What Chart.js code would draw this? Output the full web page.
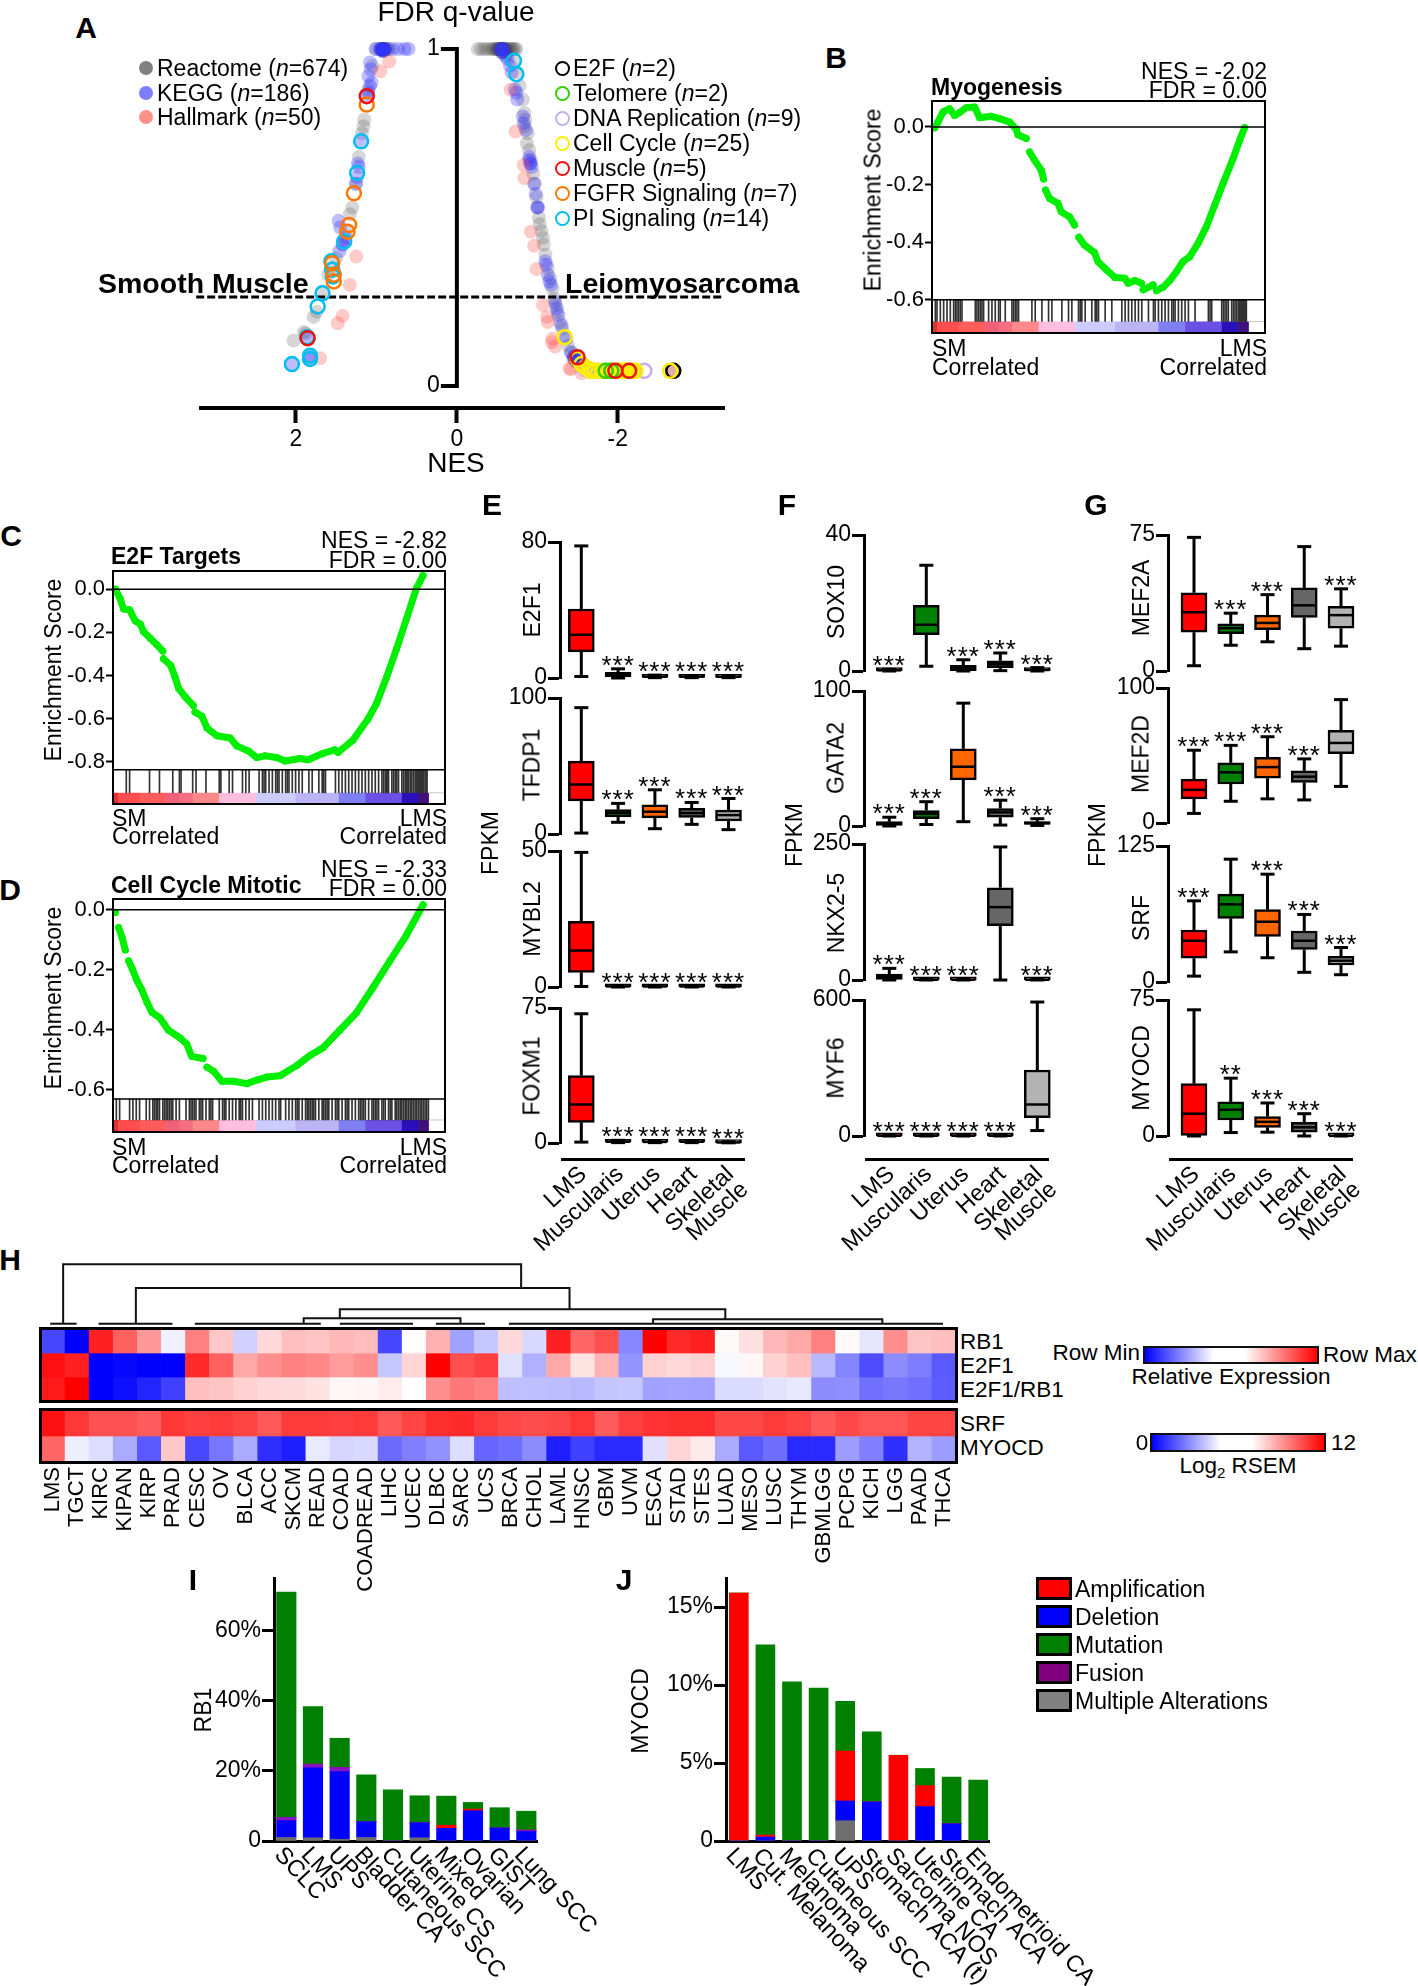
<!DOCTYPE html>
<html lang="en">
<head>
<meta charset="UTF-8" />
<title>LMS figure</title>
<script src="https://cdn.jsdelivr.net/npm/chart.js"></script>
<style>
  body { margin: 0; background: #fff; }
  #page { position: relative; width: 1418px; height: 1986px; overflow: hidden; font-family: "Liberation Sans", Arial, sans-serif; color: #000; }
  .t { position: absolute; white-space: nowrap; line-height: 1; }
  .sw { position: absolute; box-sizing: border-box; border: 3px solid #000; }
</style>
</head>
<body>
<div id="page"></div>
<script>
// ---- panel A data: [NES, FDR q-value]
const reactomeSets = [
  [-.26,1],[-.30,1],[-.34,1],[-.38,1],[-.42,1],[-.45,1],[-.47,1],[-.49,1],[-.50,1],[-.51,1],[-.52,1],[-.53,1],[-.54,1],[-.55,1],[-.55,.995],[-.55,1],[-.56,1],[-.56,.99],[-.56,1],[-.57,1],[-.57,.99],[-.57,1],[-.58,1],[-.58,.995],[-.58,1],[-.59,1],[-.59,.99],[-.60,1],[-.60,.995],[-.61,1],[-.62,1],[-.64,1],[-.66,1],[-.68,1],[-.70,1],[-.72,1],[-.74,1],
  [-.62,.985],[-.70,.96],[-.75,.93],[-.78,.89],[-.82,.85],[-.84,.81],[-.85,.79],[-.84,.77],[-.88,.75],[-.87,.72],[-.90,.70],[-.92,.67],[-.95,.63],[-.97,.60],[-.99,.56],[-1.0,.53],[-1.02,.50],[-1.03,.48],[-1.05,.46],[-1.07,.44],[-1.08,.42],[-1.10,.39],[-1.13,.35],[-1.16,.32],[-1.19,.29],[-1.21,.26],[-1.23,.24],[-1.25,.22],[-1.28,.19],[-1.31,.17],[-1.34,.15],[-1.38,.12],[-1.42,.10],[-1.45,.08],[-1.47,.08],[-1.46,.085],[-1.48,.075],[-1.50,.07],[-1.55,.06],[-1.6,.05],[-1.65,.045],[-1.68,.045],[-1.75,.045],[-1.85,.045],[-1.95,.045],[-2.1,.045],[-2.68,.045],
  [1.0,1],[.96,1],[.94,1],[.93,1],[.92,1],[.92,.995],[.91,1],[.91,.995],[.90,1],[.89,1],[.88,1],[.86,1],[.84,1],
  [1.05,.95],[1.1,.88],[1.15,.79],[1.16,.77],[1.18,.75],[1.22,.68],[1.26,.6],[1.30,.53],[1.33,.51],[1.38,.46],[1.42,.42],[1.50,.38],[1.56,.35],[1.6,.33],[1.67,.28],[1.74,.22],[1.78,.205],[1.88,.155],[2.03,.135],[1.9,.16]
];
const keggSets = [
  [-.55,1],[-.57,1],[-.56,.99],[-.58,1],[-.54,1],[-.6,.98],[-.63,.97],[-.66,.95],[-.68,.93],[-.72,.88],[-.74,.87],[-.75,.85],[-.82,.80],[-.83,.78],[-.86,.76],[-.90,.68],[-.91,.66],[-.92,.66],[-.90,.67],[-.93,.65],[-.96,.60],[-.98,.57],[-1.0,.53],[-1.01,.53],[-1.1,.37],[-1.11,.36],[-1.13,.33],[-1.15,.31],[-1.17,.30],[-1.22,.25],[-1.24,.23],[-1.26,.21],[-1.30,.18],[-1.36,.14],[-1.42,.10],[-1.45,.085],[-1.47,.08],[-1.48,.075],[-1.46,.09],[-1.7,.045],[-1.65,.045],
  [1.01,1],[.92,1],[.93,1],[.91,1],[.90,1],[.94,1],[.95,1],[.89,1],[.93,.995],[.92,.995],[.91,.995],[.80,1],[.73,1],[.65,1],[.60,1],
  [1.08,.96],[1.07,.94],[1.10,.92],[1.08,.89],[1.06,.90],[1.10,.87],[1.11,.86],[1.19,.73],[1.23,.66],[1.22,.65],[1.24,.62],[1.25,.60],[1.47,.49],[1.45,.47],[1.41,.43],[1.42,.42],[1.38,.44],[1.46,.40],[1.85,.14],[1.83,.09],[1.82,.08],[2.05,.065]
];
const hallmarkSets = [
  [.84,.963],[.95,.934],[1.25,.384],[1.33,.30],[1.42,.208],[1.48,.186],[1.70,.082],
  [-.67,.879],[-.73,.755],[-.83,.656],[-.84,.617],[-.92,.458],[-.96,.416],[-.99,.347],[-1.07,.24],[-1.13,.19],[-1.19,.14],[-1.22,.117],[-1.40,.052],[-1.42,.05],[-1.55,.038],[-2.67,.045],[-1.12,.205],[-1.18,.13]
];
const e2fRings = [[-2.69,.045],[-1.67,.045]];
const telomereRings = [[-1.85,.045],[-1.92,.045]];
const dnaRings = [[-2.33,.045],[-2.2,.045],[-2.1,.045],[-2.0,.045],[-1.9,.045],[-1.85,.045],[-1.75,.045],[-1.7,.045],[-1.6,.05]];
const cellCycleRings = [[-2.65,.045],[-1.34,.145],[-1.5,.08],[-1.55,.065],[-1.6,.055],[-1.64,.05],[-1.66,.045],[-1.68,.045],[-1.72,.045],[-1.8,.045],[-1.88,.045],[-1.95,.045],[-2.0,.045],[-2.03,.045],[-2.06,.045],[-2.09,.045],[-2.12,.045],[-2.15,.045],[-2.18,.045],[-2.22,.045]];
const muscleRings = [[1.12,.86],[1.855,.142],[-1.5,.085],[-2.14,.045],[-1.97,.045]];
const fgfrRings = [[1.12,.835],[1.28,.572],[1.34,.478],[1.36,.458],[1.55,.364],[1.53,.33],[1.53,.31]];
const piRings = [[-.71,.965],[-.74,.925],[1.19,.726],[1.24,.632],[1.40,.429],[1.56,.37],[1.55,.345],[1.54,.325],[1.67,.275],[1.73,.236],[1.86,.145],[1.825,.09],[1.825,.08],[2.05,.065]];
const nesTicks = [2, 0, -2];
const fdrCut = .264;

// ---- GSEA curves: rank %, enrichment score (null = gap between dots)
const myoRank = [.8,1.8,3.3,5.3,6.8,8.3,10.3,12.8,14.3,17.8,20.3,23.3,25.3,25.8,28.3,28.8,29.3,30.8,32.8,33.5,33.8,34.1,35.3,37.8,38.8,41.3,42.8,43.4,44.1,45.8,48.8,49.8,52.4,54.9,57.9,58.9,60.9,62.9,63.2,63.4,66.4,66.9,67.4,69.4,71.4,73.4,75.4,77.4,79.9,82.4,84.9,87.4,90.4,92.4,93.9];
const myoScore = [-.003,.017,.052,.063,.040,.050,.067,.069,.032,.037,.029,.017,-.008,-.027,-.040,null,-.087,-.115,-.150,-.181,null,-.219,-.248,-.265,-.294,-.312,-.340,null,-.383,-.410,-.436,-.467,-.496,-.522,-.525,-.542,-.533,-.542,null,-.565,-.548,null,-.568,-.556,-.533,-.502,-.467,-.450,-.404,-.346,-.271,-.196,-.110,-.046,-.002];
const myoRug = [1,1.5,2.5,3.5,4.5,5.5,6.5,7,7.5,8,8.5,9,13,13.5,14,14.5,15,15.5,17,18,19,20,20.5,22,24,24.5,25,25.5,26,30,31,33,35,36,39,41,42,44,44.5,45,46,48,49,49.5,50,52,54,57,58,59,60,61,62,63,65,66.5,67,68,69,70,71,72,72.5,73,74,75,76,77,79,83,83.5,84,87,87.5,88,88.5,89,90,90.5,91,91.5,92,92.3,92.6,92.9,93.2,93.5,93.8,94.1,94.4];
const e2fRank = [.7,2.2,3.2,5.0,6.7,8.2,9.2,11.2,13.2,15.0,15.1,15.2,17.4,18.7,19.7,21.7,24.2,24.4,24.7,26.8,28.3,31.3,35.3,37.3,40.8,43.3,45.8,49.3,51.8,56.3,58.8,63.3,66.8,67.8,72.3,76.9,79.4,82.4,85.4,88.4,91.4,93.4];
const e2fScore = [0,-.046,-.092,-.096,-.147,-.161,-.197,-.227,-.257,-.287,null,-.322,-.354,-.408,-.458,-.498,-.539,null,-.569,-.589,-.643,-.679,-.689,-.726,-.750,-.780,-.772,-.780,-.796,-.784,-.790,-.760,-.744,-.756,-.699,-.599,-.529,-.408,-.277,-.137,.004,.064];
const e2fRug = [4,5,11,14,18,20,20.5,24,25,28,32,32.5,35,36,39,40,41,44,45,45.5,46,47,48,49,49.5,50,51,52,52.5,53,54,55,56,57,59,60,62,63,63.5,64,67,68,69,70,71,72,73,74,75,76,77,78,79,80,81,81.5,82,82.3,82.6,83,84,84.5,85,85.5,86,87,87.5,88,88.3,88.6,89,89.5,90,90.5,91,91.3,91.6,92,92.3,92.6,93,93.3,93.6,94,94.3,94.6];
const mitoRank = [.7,1.2,1.7,2.7,3.7,4.2,4.7,5.9,7.2,8.7,10.2,11.7,14.2,16.7,20.2,22.2,23.7,27.1,27.7,28.3,30.3,32.8,36.3,40.3,43.3,46.3,50.3,55.3,59.3,63.3,68.3,73.3,78.4,83.4,88.4,93.4];
const mitoScore = [-.009,null,-.059,-.091,-.134,null,-.170,-.199,-.235,-.267,-.307,-.341,-.361,-.401,-.427,-.447,-.488,-.495,null,-.524,-.538,-.571,-.571,-.579,-.567,-.557,-.553,-.519,-.485,-.459,-.401,-.343,-.257,-.170,-.084,.017];
const mitoRug = [1,2,5,6,7,8,10,11,12,12.5,13,13.5,14,15,15.5,16,16.5,17,17.5,18,19,20,22,23,23.5,24,24.5,25,26,26.5,27,28,29,29.5,30,32,33,33.5,34,35,36,37,38,38.5,39,40,41,42,44,45,46,47,48,49,50,50.5,52,53,54,55,55.5,56,57,58,58.5,59,59.5,60,60.5,61,62,63,63.5,64,64.5,65,66,67,67.5,68,69,70,70.5,71,72,73,74,74.5,75,75.5,76,77,78,78.5,79,79.5,80,81,81.5,82,83,83.5,84,85,85.5,86,86.5,87,87.5,88,88.5,89,89.5,90,90.5,91,91.5,92,92.5,93,93.5,94,94.5,95];
const stripEdges = [0,1.5,8,16,20,24,32,43,55,68,76,87,92,95];
const stripColors = ['#e03030','#ff4c4c','#ff5c5c','#f06078','#f56e82','#ff8888','#ffbde0','#ccccff','#bcb4f4','#7f7ff2','#6a50e4','#2a10b8','#40107c'];

// ---- box plots: [low, q1, median, q3, high] per tissue
const tissues = ['LMS','Muscularis','Uterus','Heart',['Skeletal','Muscle']];
const boxColors = ['#ff0000','#008000','#ff6600','#666666','#b3b3b3'];
const e2f1Box = [[.9,15.4,25.4,40.6,77.7],[0,.6,2,3.4,5.4],[.2,.4,.8,1.2,1.7],[.2,.4,.8,1.2,1.5],[.2,.4,.7,1.1,1.5]];
const tfdp1Box = [[.7,24.3,36.4,53.6,92.9],[8.6,12.5,15.4,17.9,22.5],[3.9,11.8,16.4,21.4,32.5],[7.1,12.1,15.4,18.9,23.2],[3.2,9.6,13.9,17.5,26.1]];
const mybl2Box = [[.2,5.4,13.4,24.1,49.5],[0,.1,.2,.3,.4],[0,.1,.2,.3,.4],[0,.1,.2,.3,.5],[0,.1,.2,.3,.4]];
const foxm1Box = [[.5,11.5,21.4,37.5,71.8],[.2,.4,.7,.9,1.5],[.2,.4,.6,.9,1.4],[.2,.4,.7,.9,1.4],[.1,.2,.3,.4,.7]];
const sox10Box = [[0,.1,.2,.3,.5],[1.4,10.7,13.6,19.3,31.1],[0,.1,1,1.7,3.3],[.1,1,2,3,5.3],[0,.1,.3,.6,1]];
const gata2Box = [[0,.4,1.8,3.2,6.5],[1.1,5.4,9,11.5,18],[3.2,34.2,43.9,57.2,91],[.7,6.5,10.1,12.9,19.1],[.4,1.1,2.2,3.2,5.4]];
const nkx25Box = [[0,0,5.4,10.7,21.4],[0,.2,.4,.6,1],[0,.2,.4,.6,1],[0,100,133.9,169.6,244.6],[0,.2,.4,.6,1]];
const myf6Box = [[0,.5,1,1.5,3],[0,.5,1,1.5,3],[0,.5,1,1.5,3],[0,.5,1,1.5,3],[24,81,139,291,591]];
const mef2aBox = [[2.9,21.4,32.4,43.1,73.7],[14.2,20.6,23.6,26,31.9],[16.1,22.8,26.5,30.8,42.1],[12.3,29.5,36.2,45.8,68.6],[13.7,23.6,30.8,35.6,45.3]];
const mef2dBox = [[7.1,17.9,24.6,32.5,53.9],[16.1,28.9,37.5,44.6,57.5],[17.9,33.2,41.4,48.6,63.9],[17.1,30,34.3,38.6,47.5],[27.1,51.4,59.3,68.6,91.4]];
const srfBox = [[5.4,21.9,37.9,47.8,74.6],[27.7,58.5,71.4,80.8,112.9],[22.3,42,55.4,66.5,99.1],[8.9,29.9,37.9,46.9,62.1],[6.7,15.6,19.6,23.7,31.7]];
const myocdBox = [[0,.3,12.3,28.9,69.6],[1.9,8.8,14.5,18.8,31.9],[2.1,4.8,7.8,10.7,18.2],[0,2.1,4.8,7.5,12.3],[0,.05,.1,.15,.3]];
const e2f1Stars = ['','***','***','***','***'];
const sox10Stars = ['***','','***','***','***'];
const gata2Stars = ['***','***','','***','***'];
const nkx25Stars = ['***','***','***','','***'];
const myf6Stars = ['***','***','***','***',''];
const mef2aStars = ['','***','***','','***'];
const mef2dStars = ['***','***','***','***',''];
const srfStars = ['***','','***','***','***'];
const myocdStars = ['','**','***','***','***'];

// ---- heat maps
const tumours = ['LMS','TGCT','KIRC','KIPAN','KIRP','PRAD','CESC','OV','BLCA','ACC','SKCM','READ','COAD','COADREAD','LIHC','UCEC','DLBC','SARC','UCS','BRCA','CHOL','LAML','HNSC','GBM','UVM','ESCA','STAD','STES','LUAD','MESO','LUSC','THYM','GBMLGG','PCPG','KICH','LGG','PAAD','THCA'];
const rb1Row = [-.72,-1,.87,.62,.4,-.06,.5,.22,-.18,.15,.25,.23,.28,.26,-.72,.01,.31,-.37,-.22,.15,-.15,.87,.6,.69,-.47,1,.84,.87,.02,.12,.28,.34,.5,.02,-.1,.44,.23,.25];
const e2f1Row = [.94,.87,-1,-.97,-1,-1,.83,.62,.34,.44,.5,.47,.39,.44,-.22,.17,1,.69,.75,-.12,-.31,.34,.11,.29,-.42,.18,.15,.18,-.03,.03,.18,.25,-.28,-.48,-.7,-.45,-.51,-.65];
const ratioRow = [.9,1,-1,-.94,-.86,-.75,.25,.23,.18,.15,.14,.11,.03,.04,.08,0,.44,.53,.5,-.25,-.25,-.26,-.28,-.23,-.22,-.37,-.36,-.37,-.14,-.14,-.11,-.09,-.45,-.44,-.56,-.53,-.56,-.64];
const srfRow = [11.6,10.7,10.1,10.1,9.8,10.7,10.5,10.6,10.4,9.9,10.6,10.6,10.5,10.6,9.9,10.4,10.9,11,10.6,10.3,10.2,10.3,10.7,9.8,10.5,10.8,10.9,10.9,10.3,10.3,10.6,10.4,9.9,10.3,10,10,10.4,10.4];
const myocdRow = [9.6,5.6,5.2,4,2.1,7.3,1.7,2.8,4,1.1,.7,5.5,5,5.1,2.5,3,3.4,5.2,2.4,2.6,3.3,.7,1.5,1,1,5.3,7,6.5,4,2.1,2.6,1,1,3.7,3,1.1,4.2,3.7];
// dendrogram links: column left, column right, left foot, right foot, top
const dendroLinks = [[.92,19.94,0,36.7,59.7],[3.94,21.95,.7,14.7,36],[12.41,28.42,5.7,5,14.7],[10.91,17.42,.7,.7,5.7],[25.42,34.94,.7,.7,4.7]];
const dendroLeaves = [[.38,1.48],[2.39,5.46],[6.39,11.62],[12.41,15.45],[16.4,18.44],[19.43,37.46]];

// ---- alteration bars (percent of samples)
const rb1Cancers = ['SCLC','LMS','UPS','Bladder CA','Cutaneous SCC','Uterine CS','Mixed','Ovarian','GIST','Lung SCC'];
const rb1Multi = [1,.9,.5,1,0,.9,0,0,0,0];
const rb1Del = [4.8,20,19.3,4.5,0,4.3,3.6,8.6,3.7,2.7];
const rb1Fusion = [.95,1,1.2,0,0,0,0,0,0,.4];
const rb1Amp = [0,0,0,0,0,0,.9,.5,0,0];
const rb1Mut = [64.2,16.4,8.3,13.4,14.6,7.7,8.3,1.9,5.8,5.4];
const myoCancers = ['LMS','Cut. Melanoma','Melanoma','Cutaneous SCC','UPS','Stomach ACA (t)','Sarcoma NOS','Uterine CA','Stomach ACA','Endometrioid CA'];
const myoMulti = [0,0,0,0,1.3,0,0,0,0,0];
const myoDel = [0,.25,0,0,1.26,2.5,0,2.2,1.1,0];
const myoFusion = [0,0,0,0,0,0,0,0,0,0];
const myoAmp = [15.9,.13,0,0,3.2,0,5.5,1.35,0,0];
const myoMut = [0,12.2,10.2,9.8,3.2,4.5,0,1.1,3,3.9];
const alterNames = ['Amplification','Deletion','Mutation','Fusion','Multiple Alterations'];
const alterColors = ['#ff0000','#0000ff','#008000','#800080','#808080'];

// ---- helpers
const FONT = '"Liberation Sans"';
const page = document.getElementById('page');
Chart.defaults.font.family = FONT;
Chart.defaults.color = '#000';

function label(html, x, y, o = {}) {
  const d = document.createElement('div');
  d.className = 't';
  d.innerHTML = html;
  const ax = o.anchor === 'l' ? '0' : o.anchor === 'r' ? '-100%' : '-50%';
  d.style.cssText = `left:${x}px;top:${y}px;font-size:${o.size || 23}px;font-weight:${o.bold ? 'bold' : 'normal'};transform:translate(${ax},-50%) rotate(${o.rot || 0}deg);`;
  page.appendChild(d);
}

function addChart(box, m, datasets, scales, plugins = [], type = 'scatter', labels) {
  const c = document.createElement('canvas');
  c.width = box.w + m.l + m.r;
  c.height = box.h + m.t + m.b;
  c.style.cssText = `position:absolute;left:${box.x - m.l}px;top:${box.y - m.t}px;width:${c.width}px;height:${c.height}px;`;
  page.appendChild(c);
  scales.x.afterFit = s => { s.height = m.b; s.paddingLeft = s.paddingRight = s.paddingTop = s.paddingBottom = 0; };
  scales.y.afterFit = s => { s.width = m.l; s.paddingLeft = s.paddingRight = s.paddingTop = s.paddingBottom = 0; };
  return new Chart(c, {
    type,
    data: { labels, datasets },
    options: {
      responsive: false, animation: false,
      layout: { padding: { top: m.t, right: m.r, left: 0, bottom: 0 } },
      plugins: { legend: { display: false }, tooltip: { enabled: false } },
      scales
    },
    plugins
  });
}

function hidden(extra) {
  return { display: true, offset: false, grid: { display: false, offset: false }, border: { display: false }, ticks: { display: false }, ...extra };
}

function ticked(min, max, vals, o) {
  return {
    type: 'linear', min, max, reverse: !!o.reverse,
    afterBuildTicks: s => { s.ticks = vals.map(value => ({ value })); },
    grid: { drawOnChartArea: false, tickLength: o.len, tickWidth: o.lw, tickColor: '#000' },
    border: { color: '#000', width: o.lw },
    ticks: { font: { size: o.size || 23 }, color: '#000', padding: o.pad, autoSkip: false, maxRotation: 0, callback: o.fmt || (v => String(v)) }
  };
}

function slant(labels, deg, align, dx, dy, size, lh) {
  return { id: 'slant', afterDraw(chart) {
    const s = chart.scales.x, ctx = chart.ctx, base = chart.chartArea.bottom;
    ctx.save();
    ctx.font = `${size}px ${FONT}`;
    ctx.fillStyle = '#000';
    ctx.textAlign = align;
    ctx.textBaseline = 'middle';
    labels.forEach((l, i) => {
      ctx.save();
      ctx.translate(s.getPixelForValue(i) + dx, base + dy);
      ctx.rotate(deg * Math.PI / 180);
      [].concat(l).forEach((line, k) => ctx.fillText(line, 0, k * lh));
      ctx.restore();
    });
    ctx.restore();
  } };
}

const pts = list => list.map(p => ({ x: p[0], y: p[1] }));

// ---- panel A
function ringSet(list, color) {
  return { data: pts(list), pointRadius: 7, pointBorderWidth: 2.5, pointBorderColor: color, pointBackgroundColor: 'transparent', clip: false };
}
function dotSet(list, color) {
  return { data: pts(list), pointRadius: 7, pointBorderWidth: 0, pointBackgroundColor: color, clip: false };
}
const zeroSpine = { id: 'zeroSpine', afterDraw(chart) {
  const { x, y } = chart.scales, ctx = chart.ctx, x0 = x.getPixelForValue(0);
  ctx.save();
  ctx.strokeStyle = '#000'; ctx.lineWidth = 4;
  ctx.beginPath();
  ctx.moveTo(x0 - 16, y.getPixelForValue(1)); ctx.lineTo(x0, y.getPixelForValue(1));
  ctx.lineTo(x0, y.getPixelForValue(0)); ctx.lineTo(x0 - 16, y.getPixelForValue(0));
  ctx.stroke();
  ctx.fillStyle = '#000'; ctx.font = `23px ${FONT}`; ctx.textAlign = 'right'; ctx.textBaseline = 'middle';
  ctx.fillText('1', x0 - 17, y.getPixelForValue(1));
  ctx.fillText('0', x0 - 17, y.getPixelForValue(0));
  ctx.restore();
} };
addChart({ x: 201, y: 49, w: 523, h: 359 }, { l: 10, r: 10, t: 25, b: 60 }, [
  ringSet(muscleRings, '#ee1111'), ringSet(telomereRings, '#33cc00'), ringSet(cellCycleRings, '#ffee00'),
  ringSet(e2fRings, '#000'), ringSet(dnaRings, '#c4aeea'), ringSet(fgfrRings, '#ff7700'), ringSet(piRings, '#00bfef'),
  { data: [{ x: 3.24, y: fdrCut }, { x: -3.32, y: fdrCut }], showLine: true, borderColor: '#000', borderWidth: 3, borderDash: [8, 3], pointRadius: 0, clip: false },
  dotSet(hallmarkSets, 'rgba(255,70,60,.28)'), dotSet(keggSets, 'rgba(50,50,255,.32)'), dotSet(reactomeSets, 'rgba(70,70,70,.22)')
], {
  x: ticked(-3.32, 3.18, nesTicks, { reverse: true, len: 15, lw: 4, pad: 3 }),
  y: hidden({ type: 'linear', min: -.0653, max: 1 })
}, [zeroSpine]);

label('FDR q-value', 456, 12, { size: 28 });
label('NES', 456, 463, { size: 28 });
label('A', 86, 28, { size: 30, bold: true });
label('Smooth Muscle', 98, 283, { size: 28.5, bold: true, anchor: 'l' });
label('Leiomyosarcoma', 565, 283, { size: 28.5, bold: true, anchor: 'l' });
[['Reactome (<i>n</i>=674)', 'rgb(128,128,128)', 68], ['KEGG (<i>n</i>=186)', 'rgb(125,125,255)', 93], ['Hallmark (<i>n</i>=50)', 'rgb(255,145,135)', 117]].forEach(r => {
  const d = document.createElement('div');
  d.style.cssText = `position:absolute;left:139px;top:${r[2] - 7}px;width:14px;height:14px;border-radius:50%;background:${r[1]};`;
  page.appendChild(d);
  label(r[0], 157, r[2], { anchor: 'l' });
});
[['E2F (<i>n</i>=2)', '#000', 68], ['Telomere (<i>n</i>=2)', '#33cc00', 93], ['DNA Replication (<i>n</i>=9)', '#c4aeea', 118], ['Cell Cycle (<i>n</i>=25)', '#ffee00', 143], ['Muscle (<i>n</i>=5)', '#ee1111', 168], ['FGFR Signaling (<i>n</i>=7)', '#ff7700', 193], ['PI Signaling (<i>n</i>=14)', '#00bfef', 218]].forEach(r => {
  const d = document.createElement('div');
  d.style.cssText = `position:absolute;box-sizing:border-box;left:555px;top:${r[2] - 7}px;width:15px;height:15px;border-radius:50%;border:2.5px solid ${r[1]};`;
  page.appendChild(d);
  label(r[0], 573, r[2], { anchor: 'l' });
});

// ---- panels B, C, D
function gseaFrame(sep, stripTop, stripBottom) {
  return { id: 'gseaFrame', beforeDatasetsDraw(chart) {
    const { x, y } = chart.scales, ctx = chart.ctx;
    ctx.save();
    stripColors.forEach((col, i) => {
      ctx.fillStyle = col;
      const a = x.getPixelForValue(stripEdges[i]), b = x.getPixelForValue(stripEdges[i + 1]);
      ctx.fillRect(a, y.getPixelForValue(stripTop), b - a + .5, y.getPixelForValue(stripBottom) - y.getPixelForValue(stripTop));
    });
    ctx.strokeStyle = '#c8c8c8'; ctx.lineWidth = 1;
    ctx.beginPath();
    ctx.moveTo(x.getPixelForValue(95), y.getPixelForValue(stripTop));
    ctx.lineTo(x.getPixelForValue(100), y.getPixelForValue(stripTop));
    ctx.stroke();
    ctx.restore();
  }, afterDatasetsDraw(chart) {
    const { y } = chart.scales, ctx = chart.ctx, a = chart.chartArea;
    ctx.save();
    ctx.strokeStyle = '#000'; ctx.lineWidth = 1.5;
    [0, sep].forEach(v => {
      ctx.beginPath();
      ctx.moveTo(a.left, y.getPixelForValue(v)); ctx.lineTo(a.right, y.getPixelForValue(v));
      ctx.stroke();
    });
    ctx.lineWidth = 2;
    ctx.strokeRect(a.left, a.top, a.width, a.height);
    ctx.restore();
  } };
}
function gseaPanel(box, rank, score, rug, yMin, yMax, yTicks, sep, stripTop) {
  addChart(box, { l: 70, r: 6, t: 6, b: 6 }, [
    { type: 'line', data: rank.map((r, i) => ({ x: r, y: score[i] })), borderColor: '#00ee00', backgroundColor: '#00ee00', borderWidth: 7, borderCapStyle: 'round', borderJoinStyle: 'round', pointRadius: 3.5, pointBorderWidth: 0, spanGaps: false, order: 1 },
    { type: 'bar', data: rug.map(r => ({ x: r, y: [stripTop, sep] })), backgroundColor: '#333', barThickness: 1, borderWidth: 0, order: 2 }
  ], {
    x: hidden({ type: 'linear', min: 0, max: 100 }),
    y: ticked(yMin, yMax, yTicks, { len: 7, lw: 2, pad: 1, size: 22, fmt: v => v.toFixed(1) })
  }, [gseaFrame(sep, stripTop, yMin)]);
}
gseaPanel({ x: 932, y: 101, w: 333, h: 232 }, myoRank, myoScore, myoRug, -.715, .09, [0, -.2, -.4, -.6], -.6, -.675);
gseaPanel({ x: 113, y: 571, w: 332, h: 233 }, e2fRank, e2fScore, e2fRug, -.995, .084, [0, -.2, -.4, -.6, -.8], -.836, -.943);
gseaPanel({ x: 113, y: 899, w: 332, h: 233 }, mitoRank, mitoScore, mitoRug, -.74, .036, [0, -.2, -.4, -.6], -.63, -.7);

function gseaText(letter, lx, ly, title, tx, ty, nes, nesY, fdrY, right, smY, corY, esX, esY) {
  label(letter, lx, ly, { size: 30, bold: true });
  label(title, tx, ty, { bold: true, anchor: 'l' });
  label(nes, right, nesY, { anchor: 'r' });
  label('FDR = 0.00', right, fdrY, { anchor: 'r' });
  label('SM', tx + 1, smY, { anchor: 'l' });
  label('Correlated', tx + 1, corY, { anchor: 'l' });
  label('LMS', right, smY, { anchor: 'r' });
  label('Correlated', right, corY, { anchor: 'r' });
  label('Enrichment Score', esX, esY, { rot: -90 });
}
gseaText('B', 836, 58, 'Myogenesis', 931, 87, 'NES = -2.02', 71, 90, 1267, 348, 367, 873, 200);
gseaText('C', 11, 536, 'E2F Targets', 111, 556, 'NES = -2.82', 540, 560, 447, 818, 836, 53, 670);
gseaText('D', 10, 890, 'Cell Cycle Mitotic', 111, 885, 'NES = -2.33', 869, 888, 447, 1147, 1165, 53, 998);

// ---- panels E, F, G
function boxMarks(rows, stars) {
  return { id: 'boxMarks', afterDatasetsDraw(chart) {
    const { x, y } = chart.scales, ctx = chart.ctx;
    ctx.save();
    ctx.strokeStyle = '#000';
    rows.forEach((r, i) => {
      const cx = x.getPixelForValue(i);
      const seg = (x0, y0, x1, y1) => { ctx.beginPath(); ctx.moveTo(x0, y0); ctx.lineTo(x1, y1); ctx.stroke(); };
      ctx.lineWidth = 3;
      seg(cx, y.getPixelForValue(r[0]), cx, y.getPixelForValue(r[1]));
      seg(cx, y.getPixelForValue(r[3]), cx, y.getPixelForValue(r[4]));
      seg(cx - 7, y.getPixelForValue(r[0]), cx + 7, y.getPixelForValue(r[0]));
      seg(cx - 7, y.getPixelForValue(r[4]), cx + 7, y.getPixelForValue(r[4]));
      ctx.lineWidth = 2.5;
      seg(cx - 12, y.getPixelForValue(r[2]), cx + 12, y.getPixelForValue(r[2]));
      if (stars[i]) {
        ctx.fillStyle = '#000';
        ctx.font = `26px ${FONT}`;
        ctx.letterSpacing = '1px';
        ctx.textAlign = 'center';
        ctx.textBaseline = 'alphabetic';
        ctx.fillText(stars[i], cx, y.getPixelForValue(r[4]) + 5);
      }
    });
    ctx.restore();
  } };
}
function genePlot(name, rows, stars, top, yTop, yZero, spine, first, step, right, nameX, nameY) {
  const xMin = (spine - first) / step, xMax = (right - first) / step;
  addChart({ x: spine, y: yTop, w: right - spine, h: yZero - yTop }, { l: 60, r: 12, t: 14, b: 14 }, [{
    type: 'bar',
    data: rows.map((r, i) => ({ x: i, y: [r[1], r[3]] })),
    backgroundColor: boxColors, borderColor: '#000', borderWidth: 2.5, borderSkipped: false,
    barThickness: 26, minBarLength: 3, clip: false
  }], {
    x: hidden({ type: 'linear', min: xMin, max: xMax }),
    y: ticked(0, top, [0, top], { len: 12, lw: 3, pad: 1 })
  }, [boxMarks(rows, stars)]);
  label(name, nameX, nameY, { rot: -90 });
}
function tissueAxis(first, step, left, right) {
  const xMin = (left - first) / step, xMax = (right - first) / step;
  addChart({ x: left, y: 1157, w: right - left, h: 2 }, { l: 70, r: 50, t: 2, b: 100 }, [], {
    x: { type: 'linear', min: xMin, max: xMax, offset: false, grid: { display: false }, border: { color: '#000', width: 3 }, ticks: { display: false } },
    y: hidden({ type: 'linear', min: 0, max: 1 })
  }, [slant(tissues, -43, 'right', 2, 12, 23.5, 21)]);
}
const eSpine = 560, eFirst = 581.3, eStep = 36.8, eRight = 745;
genePlot('E2F1', e2f1Box, e2f1Stars, 80, 542, 678, eSpine, eFirst, eStep, eRight, 532, 610);
genePlot('TFDP1', tfdp1Box, e2f1Stars, 100, 698, 834, eSpine, eFirst, eStep, eRight, 532, 765);
genePlot('MYBL2', mybl2Box, e2f1Stars, 50, 851, 987, eSpine, eFirst, eStep, eRight, 532, 919);
genePlot('FOXM1', foxm1Box, e2f1Stars, 75, 1008, 1143, eSpine, eFirst, eStep, eRight, 532, 1076);
tissueAxis(eFirst, eStep, 562, 744);
label('E', 492, 505, { size: 30, bold: true });
label('FPKM', 490, 843, { rot: -90 });

const fSpine = 864, fFirst = 889.3, fStep = 37, fRight = 1048;
genePlot('SOX10', sox10Box, sox10Stars, 40, 535, 671, fSpine, fFirst, fStep, fRight, 836, 602);
genePlot('GATA2', gata2Box, gata2Stars, 100, 691, 826, fSpine, fFirst, fStep, fRight, 836, 758);
genePlot('NKX2-5', nkx25Box, nkx25Stars, 250, 844, 980, fSpine, fFirst, fStep, fRight, 836, 913);
genePlot('MYF6', myf6Box, myf6Stars, 600, 1000, 1136, fSpine, fFirst, fStep, fRight, 836, 1068);
tissueAxis(fFirst, fStep, 866, 1048);
label('F', 787, 505, { size: 30, bold: true });
label('FPKM', 794, 835, { rot: -90 });

const gSpine = 1168, gFirst = 1194, gStep = 36.75, gRight = 1352;
genePlot('MEF2A', mef2aBox, mef2aStars, 75, 535, 671, gSpine, gFirst, gStep, gRight, 1141, 598);
genePlot('MEF2D', mef2dBox, mef2dStars, 100, 688, 823, gSpine, gFirst, gStep, gRight, 1141, 754);
genePlot('SRF', srfBox, srfStars, 125, 846, 982, gSpine, gFirst, gStep, gRight, 1141, 918);
genePlot('MYOCD', myocdBox, myocdStars, 75, 1000, 1136, gSpine, gFirst, gStep, gRight, 1141, 1068);
tissueAxis(gFirst, gStep, 1170, 1352);
label('G', 1096, 505, { size: 30, bold: true });
label('FPKM', 1097, 835, { rot: -90 });

// ---- panel H
function heatColor(v) {
  const k = Math.round(255 * (1 - Math.abs(v)));
  return v >= 0 ? `rgb(255,${k},${k})` : `rgb(${k},${k},255)`;
}
const rsemColor = v => heatColor((v - 6) / 6);
const frame = { id: 'frame', afterDatasetsDraw(chart) {
  const a = chart.chartArea, ctx = chart.ctx;
  ctx.save();
  ctx.strokeStyle = '#000'; ctx.lineWidth = 3;
  ctx.strokeRect(a.left - .5, a.top - .5, a.width + 1, a.height + 1);
  ctx.restore();
} };
function heatPanel(box, rows, color, plugins, m) {
  addChart(box, m, rows.map((vals, r) => ({
    data: vals.map(() => [r, r + 1]),
    backgroundColor: vals.map(color),
    barPercentage: 1, categoryPercentage: 1, grouped: false, borderWidth: 0
  })), {
    x: hidden({ type: 'category', offset: true }),
    y: hidden({ type: 'linear', min: 0, max: rows.length, reverse: true })
  }, plugins, 'bar', tumours);
}
heatPanel({ x: 41, y: 1329, w: 915, h: 72 }, [rb1Row, e2f1Row, ratioRow], heatColor, [frame], { l: 4, r: 4, t: 4, b: 4 });
heatPanel({ x: 41, y: 1410, w: 915, h: 52 }, [srfRow, myocdRow], rsemColor, [frame, slant(tumours, -90, 'right', 0, 5, 22, 0)], { l: 4, r: 4, t: 4, b: 135 });

const dendroSets = dendroLinks.map(l => ({
  data: [{ x: l[0], y: l[2] }, { x: l[0], y: l[4] }, { x: l[1], y: l[4] }, { x: l[1], y: l[3] }],
  showLine: true, borderColor: '#111', borderWidth: 2, pointRadius: 0, borderJoinStyle: 'miter', clip: false
})).concat(dendroLeaves.map(l => ({
  data: [{ x: l[0], y: .3 }, { x: l[1], y: .3 }],
  showLine: true, borderColor: '#111', borderWidth: 2, pointRadius: 0, clip: false
})));
addChart({ x: 41, y: 1264, w: 915, h: 60 }, { l: 4, r: 4, t: 4, b: 4 }, dendroSets, {
  x: hidden({ type: 'linear', min: 0, max: 38 }),
  y: hidden({ type: 'linear', min: 0, max: 60 })
});

label('H', 10, 1260, { size: 30, bold: true });
[['RB1', 1342], ['E2F1', 1366], ['E2F1/RB1', 1390], ['SRF', 1424], ['MYOCD', 1448]].forEach(r => label(r[0], 960, r[1], { size: 22.5, anchor: 'l' }));
label('Row Min', 1140, 1353, { size: 22.5, anchor: 'r' });
label('Row Max', 1323, 1355, { size: 22.5, anchor: 'l' });
label('Relative Expression', 1231, 1377, { size: 22.5 });
label('0', 1142, 1443, { size: 22.5 });
label('12', 1331, 1443, { size: 22.5, anchor: 'l' });
label('Log<sub style="font-size:15px;line-height:0">2</sub> RSEM', 1238, 1466, { size: 22.5 });
[[1143, 1346, 176, 18], [1150, 1433, 176, 19]].forEach(b => {
  const d = document.createElement('div');
  d.style.cssText = `position:absolute;box-sizing:border-box;left:${b[0]}px;top:${b[1]}px;width:${b[2]}px;height:${b[3]}px;border:2px solid #111;background:linear-gradient(90deg,#0000ff 0%,#ffffff 40%,#ffffff 58%,#ff0000 100%);`;
  page.appendChild(d);
});

// ---- panels I, J
function alterPanel(box, rows, cats, yMax, yTicks, first, step, barW, dx, dy) {
  const colors = ['#6e6e6e', '#0000ff', '#8a10c0', '#ff0000', '#008000'];
  addChart(box, { l: 70, r: 130, t: 6, b: 170 }, rows.map((vals, r) => ({
    type: 'bar',
    data: vals.map((v, i) => ({ x: i, y: v })),
    backgroundColor: colors[r], barThickness: barW, borderWidth: 0
  })), {
    x: { type: 'linear', min: (box.x - first) / step, max: (box.x + box.w - first) / step, offset: false, stacked: true, grid: { display: false, offset: false }, border: { color: '#000', width: 3 }, ticks: { display: false } },
    y: { ...ticked(0, yMax, yTicks, { len: 12, lw: 3, pad: 1, fmt: v => v ? v + '%' : '0' }), stacked: true }
  }, [slant(cats, 47, 'left', dx, dy, 23.5, 0)]);
}
alterPanel({ x: 274, y: 1578, w: 263, h: 263 }, [rb1Multi, rb1Del, rb1Fusion, rb1Amp, rb1Mut], rb1Cancers, 75, [0, 20, 40, 60], 286.3, 26.67, 19.5, -8, 10);
alterPanel({ x: 726, y: 1578, w: 263, h: 263 }, [myoMulti, myoDel, myoFusion, myoAmp, myoMut], myoCancers, 16.86, [0, 5, 10, 15], 738.8, 26.6, 19, -9, 11);
label('I', 193, 1580, { size: 30, bold: true });
label('J', 624, 1580, { size: 30, bold: true });
label('RB1', 203, 1710, { rot: -90 });
label('MYOCD', 640, 1711, { rot: -90 });
alterNames.forEach((n, i) => {
  const y = [1577, 1605, 1633, 1661, 1689][i];
  const d = document.createElement('div');
  d.className = 'sw';
  d.style.cssText = `left:1036px;top:${y}px;width:36px;height:23px;background:${alterColors[i]};`;
  page.appendChild(d);
  label(n, 1075, y + 12, { size: 23, anchor: 'l' });
});
</script>
</body>
</html>
